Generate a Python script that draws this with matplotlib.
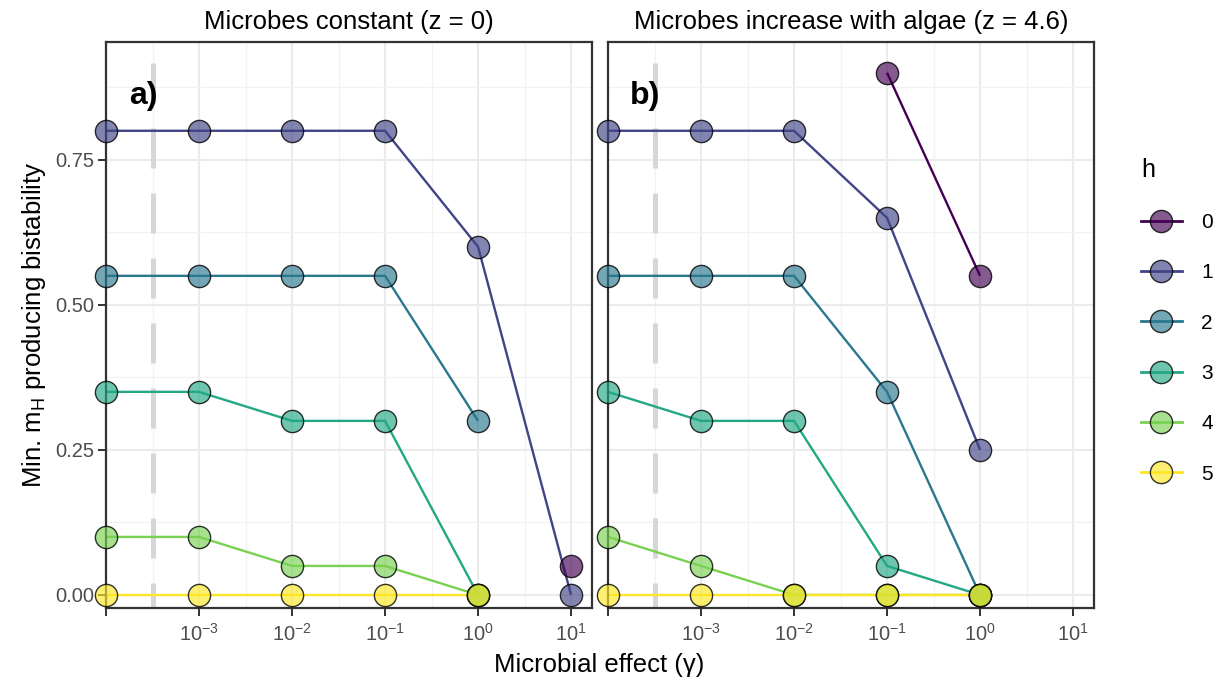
import matplotlib
matplotlib.use('Agg')
import matplotlib.pyplot as plt
from matplotlib.lines import Line2D
from matplotlib.colors import to_rgba
from matplotlib.ticker import FixedLocator, NullFormatter

plt.rcParams['font.family'] = ['Liberation Sans', 'DejaVu Sans']
plt.rcParams['mathtext.fontset'] = 'custom'
plt.rcParams['mathtext.rm'] = 'Liberation Sans'
plt.rcParams['mathtext.it'] = 'Liberation Sans:italic'

# gamma = 0 is drawn at the left edge (1e-4)
gamma = [1e-4, 1e-3, 1e-2, 1e-1, 1e0, 1e1]
h_levels = [0, 1, 2, 3, 4, 5]
h_colors = ['#440154', '#414487', '#2A788E', '#22A884', '#7AD151', '#FDE725']

# panel a: microbes constant (z = 0) ; None = no value
mh_a = {
    0: [None, None, None, None, None, 0.05],
    1: [0.80, 0.80, 0.80, 0.80, 0.60, 0.00],
    2: [0.55, 0.55, 0.55, 0.55, 0.30, None],
    3: [0.35, 0.35, 0.30, 0.30, 0.00, None],
    4: [0.10, 0.10, 0.05, 0.05, 0.00, None],
    5: [0.00, 0.00, 0.00, 0.00, 0.00, None],
}
# panel b: microbes increase with algae (z = 4.6)
mh_b = {
    0: [None, None, None, 0.90, 0.55, None],
    1: [0.80, 0.80, 0.80, 0.65, 0.25, None],
    2: [0.55, 0.55, 0.55, 0.35, 0.00, None],
    3: [0.35, 0.30, 0.30, 0.05, 0.00, None],
    4: [0.10, 0.05, 0.00, 0.00, 0.00, None],
    5: [0.00, 0.00, 0.00, 0.00, 0.00, None],
}
titles = ['Microbes constant (z = 0)', 'Microbes increase with algae (z = 4.6)']
tags = ['a)', 'b)']
xtick_vals = [1e-4, 1e-3, 1e-2, 1e-1, 1e0, 1e1]
xtick_labels = ['', r'$10^{-3}$', r'$10^{-2}$', r'$10^{-1}$', r'$10^{0}$', r'$10^{1}$']
ytick_vals = [0.0, 0.25, 0.5, 0.75]
cutoff = 10 ** -3.5

W, H = 1222, 687
fig = plt.figure(figsize=(W / 100, H / 100), dpi=100)
ax_a = fig.add_axes([106 / W, 1 - 608 / H, 486 / W, 566 / H])
ax_b = fig.add_axes([608 / W, 1 - 608 / H, 486 / W, 566 / H])

border = '#333333'
for ax, data, title, tag in zip([ax_a, ax_b], [mh_a, mh_b], titles, tags):
    ax.set_xscale('log')
    ax.set_xlim(1e-4, 10 ** 1.225)
    ax.set_ylim(-0.0225, 0.953)
    ax.set_facecolor('white')
    # grid
    ax.xaxis.set_major_locator(FixedLocator(xtick_vals))
    ax.xaxis.set_minor_locator(FixedLocator([10 ** (k + 0.5) for k in range(-4, 2)]))
    ax.xaxis.set_minor_formatter(NullFormatter())
    ax.set_xticks(xtick_vals)
    ax.set_xticklabels(xtick_labels)
    ax.yaxis.set_major_locator(FixedLocator(ytick_vals))
    ax.yaxis.set_minor_locator(FixedLocator([0.125, 0.375, 0.625, 0.875]))
    ax.grid(True, which='major', color='#EBEBEB', lw=1.5, zorder=0)
    ax.grid(True, which='minor', color='#F2F2F2', lw=0.9, zorder=0)
    ax.set_axisbelow(True)
    ax.tick_params(which='minor', length=0)
    ax.tick_params(which='major', length=5.5, width=1.4, color=border,
                   labelcolor='#4D4D4D', labelsize=14.5, pad=3)
    ax.tick_params(axis='x', which='major', pad=5)
    ax.set_yticklabels(['0.00', '0.25', '0.50', '0.75'])
    for sp in ax.spines.values():
        sp.set_color(border)
        sp.set_linewidth(1.6)

    ax.axvline(cutoff, color='#D6D6D6', lw=3.6, linestyle=(3, (8, 5)), zorder=1)

    for h, col in zip(h_levels, h_colors):
        xs = [g for g, v in zip(gamma, data[h]) if v is not None]
        ys = [v for v in data[h] if v is not None]
        ax.plot(xs, ys, color=col, lw=1.7, zorder=2, solid_capstyle='butt')
    for h, col in zip(h_levels, h_colors):
        xs = [g for g, v in zip(gamma, data[h]) if v is not None]
        ys = [v for v in data[h] if v is not None]
        ax.plot(xs, ys, ls='none', marker='o', ms=16,
                mfc=to_rgba(col, 0.65), mec=(0, 0, 0, 0.8), mew=1.0,
                zorder=3, clip_on=False)

    ax.set_title(title, fontsize=18.5, pad=9, color='black')
    ax.text(10 ** -3.6, 0.86, tag, fontsize=23, fontweight='bold',
            ha='center', va='center', zorder=4)

ax_b.set_yticklabels([])
ax_b.tick_params(axis='y', length=0)
ax_a.set_ylabel(r'Min. m$_{\mathrm{H}}$ producing bistability', fontsize=18.5, labelpad=5)
fig.text(599 / W, 1 - 665 / H, 'Microbial effect (γ)', fontsize=18.5,
         ha='center', va='center')

# legend
handles = [Line2D([0], [0], color=c, lw=2, marker='o', ms=16,
                  mfc=to_rgba(c, 0.65), mec=(0, 0, 0, 0.8), mew=1.0)
           for c in h_colors]
leg = fig.legend(handles, [str(h) for h in h_levels], title='h',
                 loc='upper left', bbox_to_anchor=(1141 / W, 1 - 158 / H),
                 frameon=False, fontsize=15, title_fontsize=18,
                 handlelength=1.95, handletextpad=0.95, labelspacing=1.5,
                 borderpad=0, borderaxespad=0, alignment='left')

fig.savefig('out.png', dpi=100)
